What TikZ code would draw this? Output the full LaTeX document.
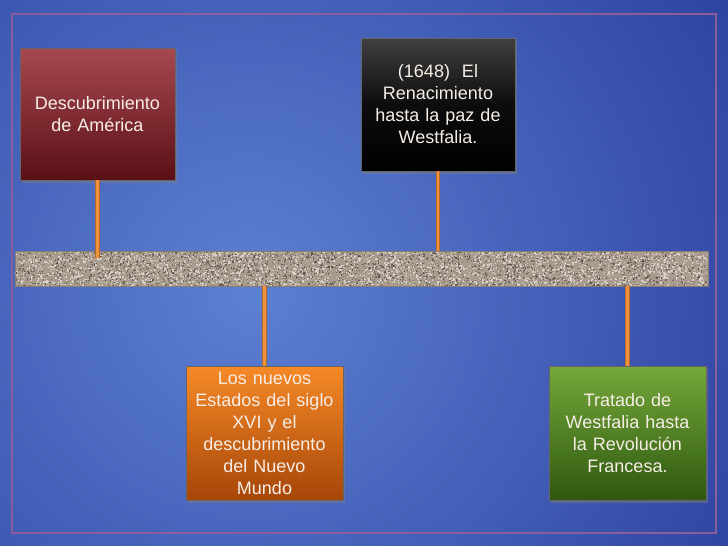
\documentclass[tikz,border=0pt]{standalone}
\usepackage{fontspec}
\setmainfont{Liberation Sans}
\usetikzlibrary{shadows}
\definecolor{bgin}{HTML}{5C80D2}
\definecolor{bgout}{HTML}{1C2C8E}
\definecolor{framec}{HTML}{8A5E9C}
\definecolor{txt}{HTML}{F6EEE6}
\definecolor{conn}{HTML}{EE933C}
\definecolor{connedge}{HTML}{B8682A}
\definecolor{granite}{HTML}{A99C8E}
\definecolor{grdark}{HTML}{4A423A}
\definecolor{grlight}{HTML}{E2DAD0}
\tikzset{
  evbox/.style={draw=black!60, line width=0.6pt, minimum width=#1, minimum height=133pt,
    text width=150pt, align=center, inner sep=2pt, text=txt,
    font=\fontsize{18}{22}\selectfont,
    drop shadow={opacity=0.45, shadow xshift=2pt, shadow yshift=-3pt}},
  connector/.style={draw=connedge, line width=0.8pt, double=conn, double distance=2.8pt},
}
\begin{document}
\begin{tikzpicture}[x=1pt,y=-1pt]
\useasboundingbox (0,0) rectangle (728,546);
% background
\begin{scope}
\clip (0,0) rectangle (728,546);
\shade[inner color=bgin, outer color=bgout] (250,290) circle (780);
\end{scope}
\draw[framec, line width=1.3pt] (12,14) rectangle (716,533);
% bar
\node[draw=granite!80!black, line width=0.6pt, fill=granite, minimum width=693pt, minimum height=35pt, inner sep=0pt] (bar) at (361.5,268.5) {};
\pgfmathsetseed{7}
\begin{scope}
\clip (15.5,252) rectangle (707.5,285.3);
\foreach \i in {1,...,2600}{
  \pgfmathsetmacro{\xx}{15+693*rnd}
  \pgfmathsetmacro{\yy}{251+35*rnd}
  \fill[grdark, opacity=0.6] (\xx,\yy) rectangle ++(1.3,1.3);
}
\foreach \i in {1,...,2600}{
  \pgfmathsetmacro{\xx}{15+693*rnd}
  \pgfmathsetmacro{\yy}{251+35*rnd}
  \fill[grlight, opacity=0.8] (\xx,\yy) rectangle ++(1.4,1.4);
}
\end{scope}
% boxes
\node[evbox=155pt, minimum height=132pt, top color={rgb,255:red,168;green,72;blue,80}, bottom color={rgb,255:red,90;green,16;blue,22}] (amer) at (97.5,114) {Descubrimiento\\de América};
\node[evbox=154pt, top color={rgb,255:red,64;green,64;blue,64}, bottom color=black, middle color=black!95] (rena) at (438,104.5) {(1648)~~El\\Renacimiento\\hasta la paz de\\Westfalia.};
\node[evbox=157pt, minimum height=134pt, top color={rgb,255:red,246;green,138;blue,40}, bottom color={rgb,255:red,166;green,70;blue,8}] (estados) at (264.5,433) {Los nuevos\\Estados del siglo\\XVI y el\\descubrimiento\\del Nuevo\\Mundo};
\node[evbox=157pt, minimum height=134pt, top color={rgb,255:red,118;green,168;blue,58}, bottom color={rgb,255:red,46;green,88;blue,16}] (trat) at (627.5,433) {Tratado de\\Westfalia hasta\\la Revolución\\Francesa.};
% connectors
\coordinate (amerend) at (97.5,258);
\draw[connector] (amer.south) -- (amerend);
\draw[connector] (rena.south) -- (rena.south |- bar.north);
\draw[connector] (estados.north) -- (estados.north |- bar.south);
\draw[connector] (trat.north) -- (trat.north |- bar.south);
\end{tikzpicture}
\end{document}
